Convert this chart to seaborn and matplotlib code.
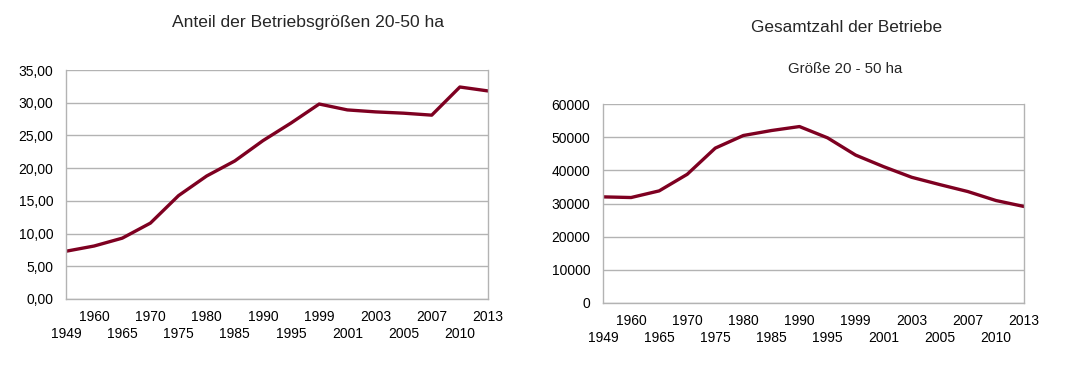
import numpy as np
import pandas as pd
import matplotlib
matplotlib.use("Agg")
import matplotlib.pyplot as plt
import seaborn as sns

# Data
years = ['1949', '1960', '1965', '1970', '1975', '1980', '1985', '1990',
         '1995', '1999', '2001', '2003', '2005', '2007', '2010', '2013']
anteil = [7.3, 8.1, 9.3, 11.6, 15.8, 18.8, 21.1, 24.2,
          26.9, 29.8, 28.9, 28.6, 28.4, 28.1, 32.4, 31.8]
betriebe = [32000, 31800, 33800, 38800, 46700, 50500, 52000, 53200,
            49800, 44600, 41100, 37900, 35700, 33600, 30900, 29100]

df = pd.DataFrame({'pos': np.arange(len(years)), 'jahr': years,
                   'anteil': anteil, 'betriebe': betriebe})

sns.set_style("white")
plt.rcParams['font.family'] = ['Liberation Sans', 'DejaVu Sans']

line_color = '#7e0021'
grid_color = '#b3b3b3'

fig = plt.figure(figsize=(10.8, 3.71), dpi=100)
ax1 = fig.add_axes([66 / 1080, 1 - 299 / 371, 422 / 1080, 229 / 371])
ax2 = fig.add_axes([603 / 1080, 1 - 303 / 371, 421 / 1080, 199 / 371])

# staggered x labels, first one on the lower row
xlabels = [('\n' + y) if i % 2 == 0 else y for i, y in enumerate(years)]


def style_axis(ax):
    ax.set_xlim(0, len(years) - 1)
    ax.set_xticks(df['pos'])
    ax.set_xticklabels(xlabels, fontsize=10, linespacing=1.3)
    ax.grid(axis='y', color=grid_color, linewidth=1)
    ax.set_axisbelow(True)
    ax.spines['top'].set_visible(False)
    for s in ['left', 'bottom', 'right']:
        ax.spines[s].set_color(grid_color)
        ax.spines[s].set_linewidth(1)
    ax.tick_params(axis='both', direction='out', length=5, width=1,
                   color=grid_color, labelsize=10, labelcolor='black')
    ax.tick_params(axis='y', pad=4)
    ax.tick_params(axis='x', pad=3)
    ax.set_xlabel('')
    ax.set_ylabel('')


sns.lineplot(data=df, x='pos', y='anteil', ax=ax1, color=line_color, linewidth=2.4)
style_axis(ax1)
ax1.set_ylim(0, 35)
ax1.set_yticks(np.arange(0, 36, 5))
ax1.set_yticklabels([f'{v:.2f}'.replace('.', ',') for v in np.arange(0, 36, 5)])

sns.lineplot(data=df, x='pos', y='betriebe', ax=ax2, color=line_color, linewidth=2.4)
style_axis(ax2)
ax2.set_ylim(0, 60000)
ax2.set_yticks(np.arange(0, 60001, 10000))
ax2.set_yticklabels([str(v) for v in range(0, 60001, 10000)])

fig.text(308 / 1080, 1 - 22 / 371, 'Anteil der Betriebsgrößen 20-50 ha',
         ha='center', va='center', fontsize=12.6)
fig.text(847 / 1080, 1 - 28 / 371, 'Gesamtzahl der Betriebe',
         ha='center', va='center', fontsize=12.4)
fig.text(845 / 1080, 1 - 69 / 371, 'Größe 20 - 50 ha',
         ha='center', va='center', fontsize=10.8)

fig.savefig('out.png', dpi=100)
